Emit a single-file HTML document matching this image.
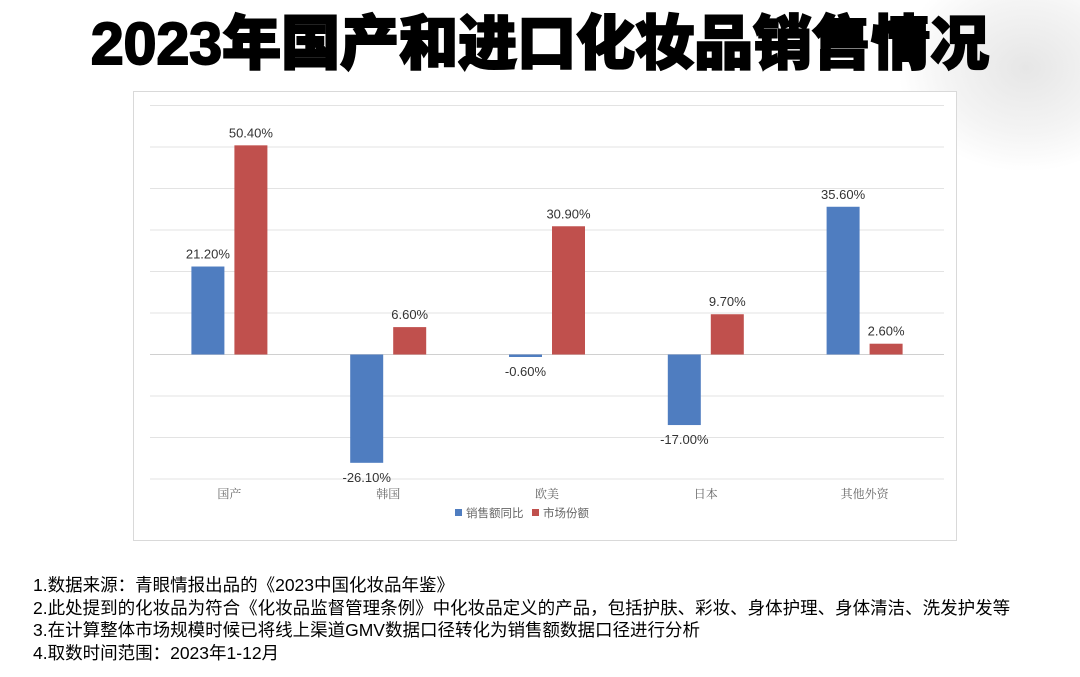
<!DOCTYPE html>
<html><head><meta charset="utf-8"><style>
body{margin:0;width:1080px;height:677px;background:#fff;overflow:hidden;position:relative;font-family:"Liberation Sans","Noto Sans CJK SC",sans-serif}
#title{position:absolute;left:0;width:1080px;top:6px;text-align:center;font-size:59px;line-height:76px;font-weight:900;color:#000;-webkit-text-stroke:2px #000;white-space:nowrap}
#swoosh{position:absolute;left:900px;top:0;width:180px;height:170px;background:radial-gradient(ellipse at 70% 40%,#e6e6e6 0%,#f4f4f4 45%,rgba(255,255,255,0) 72%)}
#notes{position:absolute;left:33px;top:574px;font-size:17.5px;line-height:22.7px;color:#000;white-space:nowrap}
</style></head><body>
<div id="swoosh"></div>
<div id="title">2023年国产和进口化妆品销售情况</div>
<svg id="chart" width="1080" height="677" style="position:absolute;left:0;top:0">
<rect x="133.5" y="91.5" width="823" height="449" fill="#fff" stroke="#d9d9d9"/>
<g id="grid"></g><g id="bars"></g><g id="labels"></g>
</svg>
<div id="notes">
<div>1.数据来源：青眼情报出品的《2023中国化妆品年鉴》</div>
<div>2.此处提到的化妆品为符合《化妆品监督管理条例》中化妆品定义的产品，包括护肤、彩妆、身体护理、身体清洁、洗发护发等</div>
<div>3.在计算整体市场规模时候已将线上渠道GMV数据口径转化为销售额数据口径进行分析</div>
<div>4.取数时间范围：2023年1-12月</div>
</div>
<script>
const categories=["国产","韩国","欧美","日本","其他外资"];
const salesYoY=[21.2,-26.1,-0.6,-17.0,35.6];
const marketShare=[50.4,6.6,30.9,9.7,2.6];
const gridTicks=[60,50,40,30,20,10,0,-10,-20,-30];
const seriesNames=["销售额同比","市场份额"];
const colors=["#4f7dc0","#c0504d"];
const NS="http://www.w3.org/2000/svg";
const x0=150,x1=944,yTop=105.5,yBot=479,vMax=60,vMin=-30;
function y(v){return yTop+(vMax-v)/(vMax-vMin)*(yBot-yTop);}
const bw=(x1-x0)/categories.length;
function cx(i){return x0+bw*(i+0.5);}
function mk(tag,attrs,parent){const e=document.createElementNS(NS,tag);for(const k in attrs)e.setAttribute(k,attrs[k]);parent.appendChild(e);return e;}
const G=document.getElementById('grid'),B=document.getElementById('bars'),L=document.getElementById('labels');
gridTicks.forEach(t=>{const l=mk('line',{x1:x0,x2:x1,y1:y(t),y2:y(t),stroke:t===0?'#d0d0d0':'#e3e3e3','stroke-width':1},G);

});
const series=[salesYoY,marketShare];
categories.forEach((c,i)=>{
 series.forEach((s,j)=>{
  const v=s[i];const left=j===0?cx(i)-38:cx(i)+5;
  const top=Math.min(y(v),y(0)),h=Math.max(Math.abs(y(v)-y(0)),1.5);
  const r=mk('rect',{x:left,y:top,width:33,height:h,fill:colors[j]},B);
  
  
  const ty=v>=0?y(v)-8:y(v)+19;
  const t=mk('text',{x:left+16.5,y:ty,'text-anchor':'middle','font-size':13,fill:'#333'},L);
  t.textContent=v.toFixed(2)+'%';
  
  
 });
 const t=mk('text',{x:cx(i),y:498,'text-anchor':'middle','font-size':12,fill:'#666','font-family':'Noto Serif CJK SC, serif'},L);
 t.textContent=c;
 
 
});
const lx=[455,532];
seriesNames.forEach((n,j)=>{
 const r=mk('rect',{x:lx[j],y:509,width:7,height:7,fill:colors[j]},L);
 
 
 const t=mk('text',{x:lx[j]+11,y:517,'font-size':11.5,fill:'#666'},L);
 t.textContent=n;
 
 
});
</script>
</body></html>
